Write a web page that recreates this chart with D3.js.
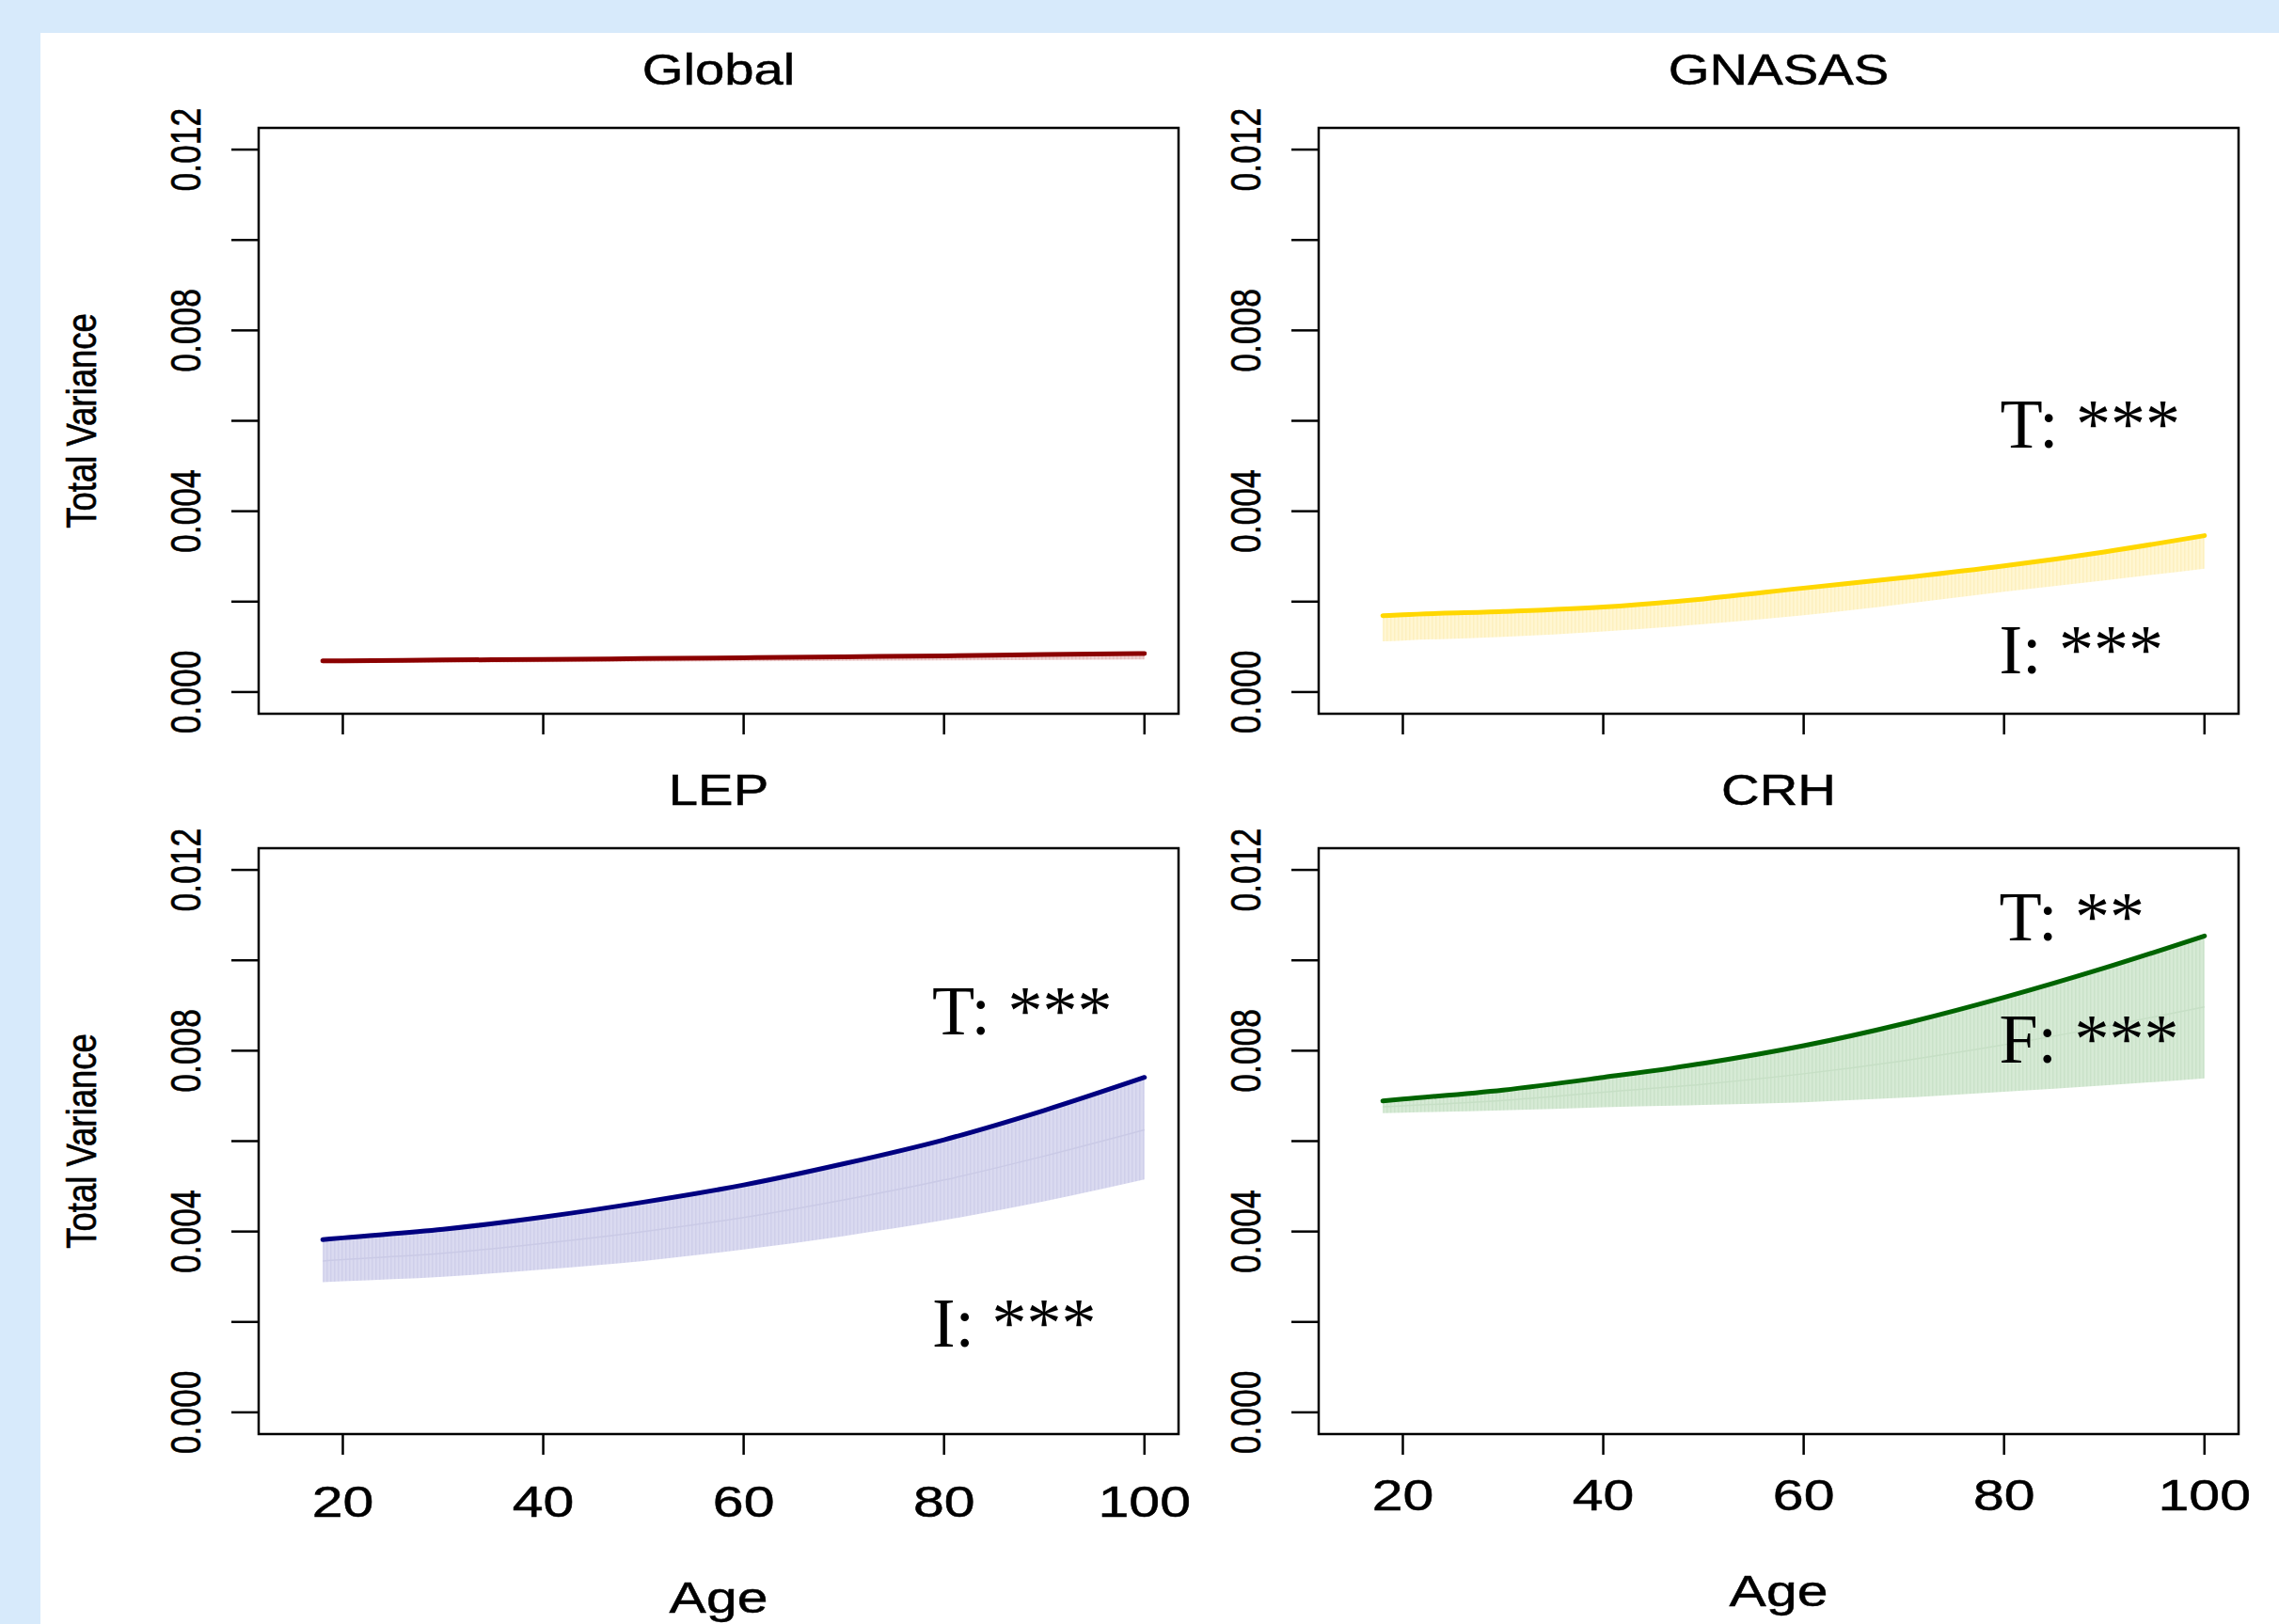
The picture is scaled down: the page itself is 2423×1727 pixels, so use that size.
<!DOCTYPE html>
<html>
<head>
<meta charset="utf-8">
<script src="https://cdn.jsdelivr.net/npm/d3@7"></script>
<style>
  html, body { margin: 0; padding: 0; background: #d7eafb; }
  svg { display: block; }
</style>
</head>
<body>
<script>
// ---------------- DATA ----------------
const titles = ["Global", "GNASAS", "LEP", "CRH"];
const ages = [18, 20, 30, 40, 50, 60, 70, 80, 90, 100];

const globalUpper = [0.00069, 0.00069, 0.00071, 0.00072, 0.00074, 0.00076, 0.00078, 0.00080, 0.00083, 0.00085];
const globalLower = [0.00064, 0.00064, 0.00065, 0.00066, 0.00067, 0.00068, 0.00069, 0.00070, 0.00071, 0.00072];

const gnasasUpper = [0.00169, 0.00171, 0.00178, 0.00188, 0.00206, 0.00230, 0.00253, 0.00279, 0.00310, 0.00346];
const gnasasLower = [0.00112, 0.00114, 0.00122, 0.00134, 0.00150, 0.00170, 0.00195, 0.00222, 0.00247, 0.00273];

const lepUpper = [0.00382, 0.00386, 0.00405, 0.00432, 0.00465, 0.00503, 0.00550, 0.00603, 0.00668, 0.00741];
const lepMid   = [0.00335, 0.00338, 0.00352, 0.00374, 0.00400, 0.00431, 0.00470, 0.00514, 0.00567, 0.00625];
const lepLower = [0.00288, 0.00290, 0.00300, 0.00316, 0.00335, 0.00360, 0.00390, 0.00425, 0.00467, 0.00515];

const crhUpper = [0.00689, 0.00693, 0.00713, 0.00741, 0.00772, 0.00811, 0.00860, 0.00918, 0.00983, 0.01054];
const crhMid   = [0.00676, 0.00678, 0.00690, 0.00708, 0.00726, 0.00749, 0.00778, 0.00813, 0.00853, 0.00897];
const crhLower = [0.00662, 0.00663, 0.00668, 0.00675, 0.00680, 0.00686, 0.00696, 0.00709, 0.00723, 0.00739];

const uppers = [globalUpper, gnasasUpper, lepUpper, crhUpper];
const lowers = [globalLower, gnasasLower, lepLower, crhLower];
const mids   = [null, null, lepMid, crhMid];

const lineColors = ["#8b0000", "#ffd700", "#000080", "#006400"];
const fillColors = ["#efd0d0", "#fff6d2", "#dadaf0", "#d6ead5"];
const stripeColors = ["#e6bfbf", "#fdf0bf", "#cfcfea", "#cae2c9"];
const midColors = [null, null, "#cacae6", "#c6dfc5"];

const xTicks = [20, 40, 60, 80, 100];
const yTicks = [0, 0.002, 0.004, 0.006, 0.008, 0.010, 0.012];
const yTickLabels = [0, 0.004, 0.008, 0.012];

const annPanel = [1, 1, 2, 2, 3, 3];
const annText  = ["T: ***", "I: ***", "T: ***", "I: ***", "T: **", "F: ***"];
const annAge   = [79.6, 79.5, 78.8, 78.8, 79.5, 79.5];
const annValue = [0.00541, 0.00041, 0.00837, 0.00146, 0.01045, 0.00773];

// ---------------- LAYOUT ----------------
const W = 2423, H = 1727;
const colX = [275, 1402];
const rowY = [136, 902];
const pw = 978, ph = 623;
const SX = 1.24; // horizontal stretch of the original graphic text
const SANS = "Liberation Sans, Arial, sans-serif";

const svg = d3.select("body").append("svg").attr("width", W).attr("height", H);
svg.append("rect").attr("x", 0).attr("y", 0).attr("width", W).attr("height", H).attr("fill", "#d7eafb");
svg.append("rect").attr("x", 43).attr("y", 35).attr("width", W - 43).attr("height", H - 35).attr("fill", "#ffffff");

const defs = svg.append("defs");
fillColors.forEach((c, i) => {
  const p = defs.append("pattern").attr("id", "stripe" + i)
    .attr("patternUnits", "userSpaceOnUse").attr("width", 4).attr("height", 10);
  p.append("rect").attr("width", 4).attr("height", 10).attr("fill", c);
  p.append("rect").attr("x", 0).attr("width", 1.5).attr("height", 10).attr("fill", stripeColors[i]);
});

const x = d3.scaleLinear().domain([11.6, 103.4]).range([0, pw]);
const y = d3.scaleLinear().domain([-0.00048, 0.01248]).range([ph, 0]);

function sansText(sel, size) {
  return sel.attr("font-family", SANS).attr("font-size", size)
    .attr("fill", "#000").attr("stroke", "#000").attr("stroke-width", 0.5);
}

titles.forEach((title, i) => {
  const col = i % 2, row = Math.floor(i / 2);
  const g = svg.append("g").attr("transform", `translate(${colX[col]},${rowY[row]})`);

  const up = ages.map((a, k) => ({ a, v: uppers[i][k] }));

  const area = d3.area().x(d => x(d.a)).y0((d, k) => y(lowers[i][k])).y1(d => y(d.v))
    .curve(d3.curveMonotoneX);
  g.append("path").datum(up).attr("d", area).attr("fill", `url(#stripe${i})`);

  const line = d3.line().x(d => x(d.a)).y(d => y(d.v)).curve(d3.curveMonotoneX);
  if (mids[i]) {
    const md = ages.map((a, k) => ({ a, v: mids[i][k] }));
    g.append("path").datum(md).attr("d", line).attr("fill", "none")
      .attr("stroke", midColors[i]).attr("stroke-width", 1.5);
  }
  g.append("path").datum(up).attr("d", line).attr("fill", "none")
    .attr("stroke", lineColors[i]).attr("stroke-width", 5).attr("stroke-linecap", "round");

  // box
  g.append("rect").attr("x", 0).attr("y", 0).attr("width", pw).attr("height", ph)
    .attr("fill", "none").attr("stroke", "#000").attr("stroke-width", 2.5);

  // x ticks
  g.selectAll(".xt").data(xTicks).enter().append("line")
    .attr("x1", d => x(d)).attr("x2", d => x(d)).attr("y1", ph).attr("y2", ph + 22)
    .attr("stroke", "#000").attr("stroke-width", 2.5);
  // y ticks
  g.selectAll(".yt").data(yTicks).enter().append("line")
    .attr("x1", -29).attr("x2", 0).attr("y1", d => y(d)).attr("y2", d => y(d))
    .attr("stroke", "#000").attr("stroke-width", 2.5);
  // y tick labels
  sansText(g.selectAll(".yl").data(yTickLabels).enter().append("text"), 35.5)
    .attr("transform", d => `translate(-62,${y(d)}) scale(${SX},1) rotate(-90)`)
    .attr("text-anchor", "middle")
    .text(d => d3.format(".3f")(d));

  // title
  sansText(g.append("text"), 46.5)
    .attr("transform", `translate(${pw / 2},-46) scale(${SX - 0.03},1)`)
    .attr("text-anchor", "middle").text(title);

  if (col === 0) {
    sansText(g.append("text"), 36.5)
      .attr("transform", `translate(-173,${ph / 2}) scale(${SX},1) rotate(-90)`)
      .attr("text-anchor", "middle").text("Total Variance");
  }

  if (row === 1) {
    const off = col === 0 ? 0 : -7;
    sansText(g.selectAll(".xl").data(xTicks).enter().append("text"), 46.5)
      .attr("transform", d => `translate(${x(d)},${ph + 88 + off}) scale(${SX + 0.03},1)`)
      .attr("text-anchor", "middle").text(d => d);
    sansText(g.append("text"), 46)
      .attr("transform", `translate(${pw / 2},${ph + 190 + off}) scale(${SX + 0.04},1)`)
      .attr("text-anchor", "middle").text("Age");
  }

  // annotations
  annPanel.forEach((p, k) => {
    if (p !== i) return;
    g.append("text").attr("x", x(annAge[k])).attr("y", y(annValue[k]))
      .attr("font-family", "Liberation Serif, Times New Roman, serif").attr("font-size", 74)
      .attr("fill", "#000").text(annText[k]);
  });
});
</script>
</body>
</html>
